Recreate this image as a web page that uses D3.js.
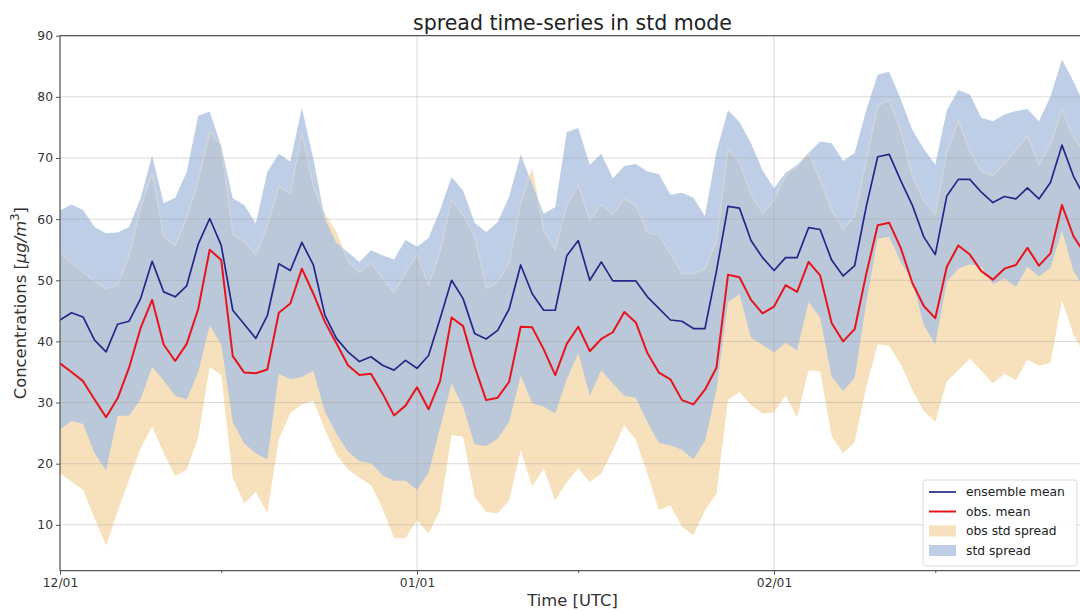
<!DOCTYPE html>
<html><head><meta charset="utf-8">
<script src="https://cdn.jsdelivr.net/npm/d3@7"></script>
<style>
html,body{margin:0;padding:0;background:#fff;}
svg{display:block;font-family:"DejaVu Sans",sans-serif;}
</style>
</head><body>
<svg id="chart" width="1080" height="611"></svg>
<script>
// ---------------- data (daily, starting 12/01) ----------------
const startDate = "2021-12-01";
const ensembleMean = [
 43.5, 44.7, 44.0, 40.2, 38.3, 42.8, 43.3, 47.0, 53.1, 48.1,
 47.3, 49.1, 55.9, 60.1, 55.7, 45.1, 42.8, 40.5, 44.2, 52.7,
 51.6, 56.2, 52.5, 44.3, 40.5, 38.3, 36.7, 37.5, 36.1, 35.3,
 36.9, 35.6, 37.7, 43.7, 50.0, 47.0, 41.3, 40.4, 41.8, 45.3,
 52.5, 47.8, 45.1, 45.1, 54.0, 56.5, 50.0, 53.0, 49.9, 49.9,
 49.9, 47.3, 45.4, 43.5, 43.3, 42.1, 42.1, 51.5, 62.1, 61.8,
 56.5, 53.7, 51.6, 53.7, 53.7, 58.6, 58.3, 53.3, 50.7, 52.4,
 62.0, 70.2, 70.6, 66.3, 62.3, 57.1, 54.2, 63.8, 66.5, 66.5,
 64.4, 62.7, 63.7, 63.3, 65.1, 63.3, 66.0, 72.1, 67.0, 63.5];
const ensembleStd = [
 17.9, 17.7, 17.5, 18.5, 19.4, 15.0, 15.4, 16.4, 17.3, 14.5,
 16.2, 18.6, 21.0, 17.5, 16.2, 18.3, 19.5, 18.8, 23.5, 18.0,
 17.8, 22.0, 17.3, 15.8, 15.6, 16.3, 16.3, 17.4, 18.0, 18.1,
 19.7, 19.9, 19.2, 17.8, 16.9, 17.7, 18.1, 17.5, 17.7, 18.4,
 18.1, 17.9, 15.8, 16.9, 20.2, 18.4, 18.9, 17.7, 16.8, 18.8,
 19.1, 20.5, 22.0, 20.5, 21.0, 21.4, 18.4, 19.5, 15.7, 14.1,
 15.9, 14.3, 13.4, 13.9, 15.2, 12.2, 14.4, 19.1, 18.8, 18.4,
 15.8, 13.4, 13.5, 13.3, 12.3, 14.4, 14.7, 14.0, 14.6, 13.9,
 12.2, 13.3, 13.4, 14.4, 12.9, 12.7, 14.0, 14.0, 15.5, 15.0];
const obsMean = [
 36.4, 35.0, 33.5, 30.5, 27.6, 30.7, 35.7, 42.2, 46.8, 39.5,
 36.8, 39.6, 45.3, 55.0, 53.3, 37.6, 34.9, 34.8, 35.4, 44.7,
 46.2, 51.9, 47.8, 43.2, 39.7, 36.1, 34.5, 34.7, 31.5, 27.9,
 29.5, 32.5, 28.9, 33.5, 43.9, 42.5, 35.9, 30.4, 30.8, 33.4,
 42.4, 42.3, 38.7, 34.5, 39.6, 42.4, 38.4, 40.4, 41.5, 44.8,
 43.1, 38.1, 34.9, 33.8, 30.4, 29.7, 32.1, 35.7, 50.9, 50.5,
 46.8, 44.6, 45.7, 49.2, 48.1, 53.0, 50.8, 43.0, 40.0, 42.0,
 51.0, 59.0, 59.4, 55.3, 49.6, 45.8, 43.8, 52.2, 55.7, 54.2,
 51.5, 50.1, 51.9, 52.5, 55.3, 52.4, 54.4, 62.3, 57.2, 54.3];
const obsStd = [
 18.0, 17.9, 17.8, 19.4, 21.0, 18.5, 18.3, 19.7, 20.7, 17.7,
 18.8, 20.6, 21.0, 19.2, 18.8, 19.9, 21.4, 19.4, 23.5, 20.7,
 17.9, 22.2, 17.5, 17.6, 18.2, 17.0, 16.8, 18.2, 18.8, 20.1,
 21.7, 21.7, 20.3, 21.1, 19.2, 18.1, 21.3, 18.3, 18.9, 19.4,
 20.2, 26.0, 19.5, 20.5, 22.6, 23.2, 21.4, 22.0, 19.3, 18.5,
 19.2, 19.7, 22.5, 20.6, 20.7, 21.4, 19.7, 20.6, 20.5, 18.8,
 17.2, 16.4, 17.3, 18.0, 20.5, 17.7, 15.7, 18.5, 18.3, 18.5,
 18.5, 19.5, 20.1, 19.0, 17.5, 17.2, 17.0, 18.7, 20.4, 17.0,
 16.3, 17.0, 17.2, 18.8, 18.3, 16.4, 17.9, 15.6, 16.1, 16.5];
const yTicks = [10, 20, 30, 40, 50, 60, 70, 80, 90];
const xMajorTicks = ["2021-12-01", "2022-01-01", "2022-02-01"];
const xMinorTicks = ["2021-12-15", "2022-01-15", "2022-02-15"];
const legendLabels = ["ensemble mean", "obs. mean", "obs std spread", "std spread"];
const titleText = "spread time-series in std mode";

// ---------------- layout ----------------
const W = 1080, H = 611;
const plot = {left: 60, right: 1085, top: 35.7, bottom: 570.7};
const C = {
  ens: "#24278a", obs: "#e8141c",
  obsFill: "rgb(246,225,188)", ensFill: "rgba(172,194,224,0.8)",
  grid: "rgba(160,160,160,0.4)", spine: "#555", text: "#333"
};

const parse = d3.utcParse("%Y-%m-%d");
const t0 = parse(startDate);
const rows = ensembleMean.map((m, i) => ({
  date: d3.utcDay.offset(t0, i), em: m, es: ensembleStd[i], om: obsMean[i], os: obsStd[i]
}));

const x = d3.scaleUtc()
  .domain([t0, rows[rows.length - 1].date])
  .range([plot.left, plot.right]);
const y = d3.scaleLinear().domain([2.5, 90]).range([plot.bottom, plot.top]);

const svg = d3.select("#chart");
svg.append("rect").attr("width", W).attr("height", H).attr("fill", "#fff");
svg.append("defs").append("clipPath").attr("id", "clip")
  .append("rect").attr("x", plot.left).attr("y", plot.top)
  .attr("width", plot.right - plot.left).attr("height", plot.bottom - plot.top);

const g = svg.append("g").attr("clip-path", "url(#clip)");

// obs std spread
g.append("path").datum(rows)
  .attr("d", d3.area().x(d => x(d.date)).y0(d => y(d.om - d.os)).y1(d => y(d.om + d.os)))
  .attr("fill", C.obsFill);
// std spread
g.append("path").datum(rows)
  .attr("d", d3.area().x(d => x(d.date)).y0(d => y(d.em - d.es)).y1(d => y(d.em + d.es)))
  .attr("fill", C.ensFill);
// faint edge of obs spread seen through
g.append("path").datum(rows)
  .attr("d", d3.line().x(d => x(d.date)).y(d => y(d.om + d.os)))
  .attr("fill", "none").attr("stroke", "rgba(240,230,210,0.4)").attr("stroke-width", 1.4);

// grid
g.selectAll(".gy").data(yTicks).join("line")
  .attr("x1", plot.left).attr("x2", plot.right)
  .attr("y1", d => y(d)).attr("y2", d => y(d))
  .attr("stroke", C.grid).attr("stroke-width", 1);
g.selectAll(".gx").data(xMajorTicks.map(parse)).join("line")
  .attr("x1", d => x(d)).attr("x2", d => x(d))
  .attr("y1", plot.top).attr("y2", plot.bottom)
  .attr("stroke", C.grid).attr("stroke-width", 1);

// mean lines
g.append("path").datum(rows)
  .attr("d", d3.line().x(d => x(d.date)).y(d => y(d.em)))
  .attr("fill", "none").attr("stroke", C.ens).attr("stroke-width", 1.7)
  .attr("stroke-linejoin", "round");
g.append("path").datum(rows)
  .attr("d", d3.line().x(d => x(d.date)).y(d => y(d.om)))
  .attr("fill", "none").attr("stroke", C.obs).attr("stroke-width", 2)
  .attr("stroke-linejoin", "round");

// spines
svg.append("line").attr("x1", plot.left).attr("x2", plot.left)
  .attr("y1", plot.top).attr("y2", plot.bottom).attr("stroke", C.spine).attr("stroke-width", 1.2);
svg.append("line").attr("x1", plot.left).attr("x2", plot.right)
  .attr("y1", plot.bottom).attr("y2", plot.bottom).attr("stroke", C.spine).attr("stroke-width", 1.2);
svg.append("line").attr("x1", plot.left).attr("x2", plot.right)
  .attr("y1", plot.top).attr("y2", plot.top).attr("stroke", C.spine).attr("stroke-width", 1.2);

// y axis
const yAxis = d3.axisLeft(y).tickValues(yTicks).tickSize(4).tickPadding(3);
const ya = svg.append("g").attr("transform", `translate(${plot.left},0)`).call(yAxis);
ya.select(".domain").remove();
ya.selectAll("line").attr("stroke", C.spine);
ya.selectAll("text").attr("font-size", 12.3).attr("fill", C.text)
  .attr("font-family", "DejaVu Sans, sans-serif");

// x axis
const fmt = d3.utcFormat("%m/%d");
const xAxis = d3.axisBottom(x).tickValues(xMajorTicks.map(parse)).tickFormat(fmt)
  .tickSize(4).tickPadding(4);
const xa = svg.append("g").attr("transform", `translate(0,${plot.bottom})`).call(xAxis);
xa.select(".domain").remove();
xa.selectAll("line").attr("stroke", C.spine);
xa.selectAll("text").attr("font-size", 12.3).attr("fill", C.text)
  .attr("font-family", "DejaVu Sans, sans-serif");
const xMinor = d3.axisBottom(x).tickValues(xMinorTicks.map(parse)).tickFormat("").tickSize(2.5);
const xm = svg.append("g").attr("transform", `translate(0,${plot.bottom})`).call(xMinor);
xm.select(".domain").remove();
xm.selectAll("line").attr("stroke", C.spine);

// titles
svg.append("text").attr("x", (plot.left + plot.right) / 2).attr("y", 30)
  .attr("text-anchor", "middle").attr("font-size", 20.5).attr("fill", "#222").text(titleText);
svg.append("text").attr("x", (plot.left + plot.right) / 2).attr("y", 606)
  .attr("text-anchor", "middle").attr("font-size", 16.4).attr("fill", "#333").text("Time [UTC]");
const yl = svg.append("text")
  .attr("transform", `translate(26,${(plot.top + plot.bottom) / 2}) rotate(-90)`)
  .attr("text-anchor", "middle").attr("font-size", 16.4).attr("fill", "#333");
yl.append("tspan").text("Concentrations [");
yl.append("tspan").attr("font-style", "italic").text("μg/m");
yl.append("tspan").attr("font-size", 11.5).attr("dy", -7).text("3");
yl.append("tspan").attr("dy", 7).text("]");

// legend
const lg = svg.append("g");
lg.append("rect").attr("x", 923).attr("y", 480).attr("width", 154).attr("height", 86)
  .attr("rx", 3).attr("fill", "rgba(255,255,255,0.85)").attr("stroke", "#dcdcdc");
const rowsY = [492, 511.5, 531, 550.5];
const items = [
  {type: "line", color: C.ens, w: 1.7},
  {type: "line", color: C.obs, w: 2},
  {type: "patch", color: C.obsFill},
  {type: "patch", color: "rgb(189,206,230)"}
];
items.forEach((it, i) => {
  const yy = rowsY[i];
  if (it.type === "line") {
    lg.append("line").attr("x1", 929).attr("x2", 956).attr("y1", yy).attr("y2", yy)
      .attr("stroke", it.color).attr("stroke-width", it.w);
  } else {
    lg.append("rect").attr("x", 929).attr("y", yy - 5.5).attr("width", 27).attr("height", 11)
      .attr("fill", it.color);
  }
  lg.append("text").attr("x", 966).attr("y", yy + 4.3).attr("font-size", 12.3)
    .attr("fill", "#222").text(legendLabels[i]);
});
</script>
</body></html>
